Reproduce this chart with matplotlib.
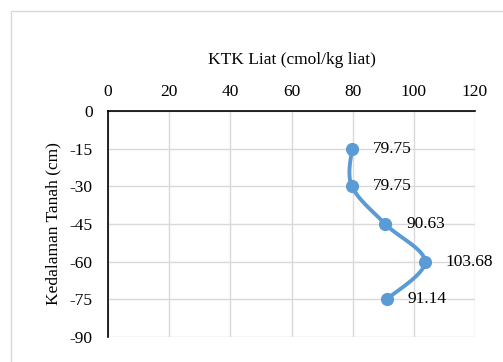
import numpy as np
import matplotlib
matplotlib.use("Agg")
import matplotlib.pyplot as plt
from matplotlib.patches import Rectangle

plt.rcParams["font.family"] = ["Liberation Serif", "DejaVu Serif"]
plt.rcParams["axes.unicode_minus"] = False

KTK = [79.75, 79.75, 90.63, 103.68, 91.14]
DEPTH = [-15, -30, -45, -60, -75]
LABELS = ["79.75", "79.75", "90.63", "103.68", "91.14"]
X_TICKS = [0, 20, 40, 60, 80, 100, 120]
Y_TICKS = [0, -15, -30, -45, -60, -75, -90]
BLUE = "#5B9BD5"


def catmull_rom(xs, ys, n=30):
    # smooth curve through the points, similar to Excel's smoothed line
    p = np.column_stack([xs, ys]).astype(float)
    p = np.vstack([p[0], p, p[-1]])
    out = []
    for i in range(1, len(p) - 2):
        p0, p1, p2, p3 = p[i - 1], p[i], p[i + 1], p[i + 2]
        t = np.linspace(0, 1, n)[:, None]
        seg = 0.5 * ((2 * p1) + (-p0 + p2) * t
                     + (2 * p0 - 5 * p1 + 4 * p2 - p3) * t ** 2
                     + (-p0 + 3 * p1 - 3 * p2 + p3) * t ** 3)
        out.append(seg)
    c = np.vstack(out)
    return c[:, 0], c[:, 1]


fig = plt.figure(figsize=(5.03, 3.62), dpi=100)
fig.patches.append(Rectangle((11 / 503, -0.1), 1.2, 1 - 11 / 362 + 0.1,
                             transform=fig.transFigure, fill=False,
                             edgecolor="#d9d9d9", linewidth=1.0))
ax = fig.add_axes([108 / 503, 1 - 337 / 362, 367 / 503, 226 / 362])

cx, cy = catmull_rom(KTK, DEPTH)
ax.plot(cx, cy, color=BLUE, linewidth=2.8, solid_capstyle="round", zorder=3)
ax.plot(KTK, DEPTH, "o", color=BLUE, markersize=8.5, zorder=4)
for x, y, s in zip(KTK, DEPTH, LABELS):
    ax.annotate(s, (x, y), xytext=(15, 0), textcoords="offset points",
                va="center", ha="left", fontsize=12.5)

ax.set_xlim(0, 120)
ax.set_ylim(-90, 0)
ax.set_xticks(X_TICKS)
ax.set_yticks(Y_TICKS)
ax.xaxis.tick_top()
ax.xaxis.set_label_position("top")
ax.tick_params(length=0, labelsize=12.5)
ax.tick_params(axis="y", pad=11)
ax.tick_params(axis="x", pad=8)
ax.set_xlabel("KTK Liat (cmol/kg liat)", fontsize=12.5, labelpad=14)
ax.set_ylabel("Kedalaman Tanah (cm)", fontsize=12.5, labelpad=6)
ax.grid(True, color="#d9d9d9", linewidth=1.0)
ax.set_axisbelow(True)
for side in ["right", "bottom"]:
    ax.spines[side].set_visible(False)
for side in ["left", "top"]:
    ax.spines[side].set_color("black")
    ax.spines[side].set_linewidth(1.2)

fig.savefig("out.png", dpi=100)
